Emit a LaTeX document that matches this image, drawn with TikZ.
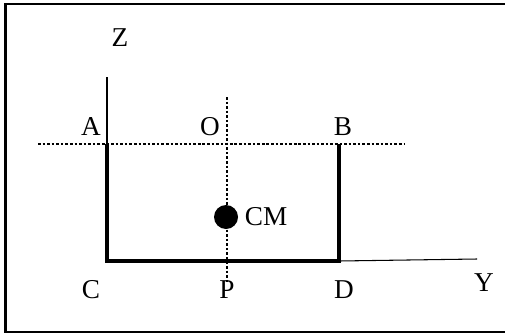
\documentclass[tikz,border=0pt]{standalone}
\usepackage{fontspec}
\setmainfont{Liberation Serif}
\usetikzlibrary{positioning}

\begin{document}
\begin{tikzpicture}[x=0.2mm, y=-0.2mm,
    lbl/.style={font=\fontsize{15.5}{18}\selectfont, inner sep=0pt},
    guide/.style={line width=0.6pt, dash pattern=on 1.5pt off 1.1pt},
    bar/.style={line width=2.3pt, line join=miter}]

        \useasboundingbox (0,0) rectangle (505,334);

        % frame
        \draw[line width=1.2pt] (505,4) -- (5.5,4) -- (5.5,332) -- (505,332);

        % corner points
        \coordinate (A) at (107,144);
        \coordinate (B) at (339,144);
        \coordinate (C) at (107,261);
        \coordinate (D) at (339,261);
        \coordinate (ztop) at (107,77);
        \coordinate (yend) at (477,259);
        \coordinate (hl) at (38,144);
        \coordinate (hr) at (405,144);
        \coordinate (vt) at (227,97);
        \coordinate (vb) at (227,284);

        % guides
        \draw[guide] (hl) -- (hr);
        \draw[guide] (vt) -- (vb);

        % axes
        \draw[line width=0.6pt] (ztop) -- (A);
        \draw[line width=0.6pt] (D) -- (yend);

        % the bar
        \draw[bar] (A) -- (C) -- (D) -- (B);

        % centre of mass
        \node[circle, fill=black, minimum size=4.8mm, inner sep=0pt] (cm) at (226,217) {};

        % labels
        \node[lbl] (lz) at (120,38) {Z};
        \node[lbl] (la) at (91,127) {A};
        \node[lbl] (lo) at (210,127) {O};
        \node[lbl] (lb) at (343,127) {B};
        \node[lbl, right=3.5pt of cm] (lcm) {CM};
        \node[lbl] (lc) at (91,290) {C};
        \node[lbl] (lp) at (227,290) {P};
        \node[lbl] (ld) at (344,290) {D};
        \node[lbl] (ly) at (484,283) {Y};

    \end{tikzpicture}
\end{document}
